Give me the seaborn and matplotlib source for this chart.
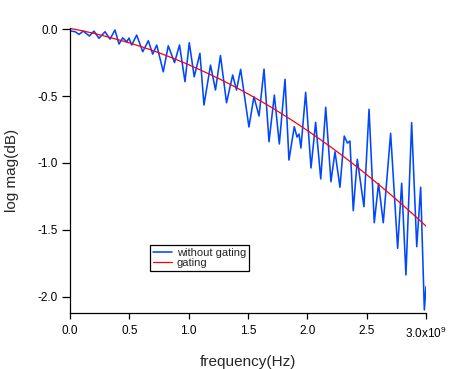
import numpy as np
import pandas as pd
import matplotlib
matplotlib.use("Agg")
import matplotlib.pyplot as plt
import seaborn as sns

# frequency in units of 1e9 Hz
freq_nogate = [0.006, 0.042, 0.076, 0.112, 0.163, 0.202, 0.244, 0.295, 0.337, 0.379,
               0.413, 0.444, 0.478, 0.497, 0.520, 0.562, 0.613, 0.660, 0.697, 0.731,
               0.786, 0.828, 0.881, 0.923, 0.969, 1.005, 1.047, 1.095, 1.129, 1.184,
               1.226, 1.268, 1.319, 1.371, 1.403, 1.438, 1.508, 1.550, 1.593, 1.635,
               1.677, 1.722, 1.764, 1.812, 1.845, 1.890, 1.913, 1.930, 1.946, 1.986,
               2.031, 2.070, 2.113, 2.155, 2.199, 2.233, 2.275, 2.311, 2.338, 2.359,
               2.387, 2.421, 2.477, 2.520, 2.564, 2.600, 2.640, 2.702, 2.761, 2.795,
               2.831, 2.879, 2.922, 2.955, 2.986, 3.000]
mag_nogate = [-0.015, -0.019, -0.040, -0.015, -0.052, -0.015, -0.069, -0.020, -0.075, -0.007,
              -0.112, -0.065, -0.095, -0.067, -0.119, -0.045, -0.169, -0.087, -0.187, -0.119,
              -0.319, -0.125, -0.250, -0.119, -0.393, -0.102, -0.356, -0.181, -0.567, -0.269,
              -0.455, -0.198, -0.550, -0.343, -0.455, -0.301, -0.731, -0.505, -0.649, -0.299,
              -0.841, -0.493, -0.858, -0.375, -0.978, -0.729, -0.806, -0.784, -0.888, -0.472,
              -1.037, -0.696, -1.119, -0.584, -1.140, -0.916, -1.181, -0.799, -0.851, -0.836,
              -1.356, -0.972, -1.326, -0.599, -1.446, -1.153, -1.446, -0.778, -1.637, -1.151,
              -1.836, -0.699, -1.625, -1.181, -2.097, -1.923]

freq_gate = [0.0, 0.1, 0.2, 0.3, 0.4, 0.5, 0.6, 0.7, 0.8, 0.9, 1.0,
             1.1, 1.2, 1.3, 1.4, 1.5, 1.6, 1.7, 1.8, 1.9, 2.0,
             2.1, 2.2, 2.3, 2.4, 2.5, 2.6, 2.7, 2.8, 2.9, 3.0]
mag_gate = [0.005, -0.012, -0.032, -0.054, -0.078, -0.103, -0.131, -0.161, -0.194, -0.229, -0.266,
            -0.306, -0.347, -0.390, -0.436, -0.484, -0.534, -0.586, -0.641, -0.698, -0.757,
            -0.819, -0.882, -0.948, -1.016, -1.087, -1.160, -1.234, -1.311, -1.390, -1.471]

xtick_vals = [0.0, 0.5, 1.0, 1.5, 2.0, 2.5, 3.0]
xtick_labels = ["0.0", "0.5", "1.0", "1.5", "2.0", "2.5", "3.0x10$^{9}$"]
ytick_vals = [0.0, -0.5, -1.0, -1.5, -2.0]
ytick_labels = ["0.0", "-0.5", "-1.0", "-1.5", "-2.0"]

sns.set_style("ticks")
plt.rcParams['font.family'] = ['Liberation Sans', 'DejaVu Sans']
plt.rcParams['mathtext.fontset'] = 'custom'
plt.rcParams['mathtext.rm'] = 'Liberation Sans'

fig = plt.figure(figsize=(4.54, 3.69), dpi=100)
ax = fig.add_axes([70/454, 1-313/369, 356/454, 285/369])

df1 = pd.DataFrame({"f": freq_nogate, "m": mag_nogate})
df2 = pd.DataFrame({"f": freq_gate, "m": mag_gate})
sns.lineplot(data=df1, x="f", y="m", ax=ax, color="#0047ff", lw=1.15,
             sort=False, estimator=None, label="without gating")
sns.lineplot(data=df2, x="f", y="m", ax=ax, color="#ff0000", lw=0.9,
             sort=False, estimator=None, label="gating")

ax.set_xlim(0, 3.0)
ax.set_ylim(-2.12, 0.008)
ax.set_xticks(xtick_vals)
ax.set_xticklabels(xtick_labels)
ax.set_yticks(ytick_vals)
ax.set_yticklabels(ytick_labels)
sns.despine(ax=ax)
for s in ["left", "bottom"]:
    ax.spines[s].set_linewidth(0.9)
    ax.spines[s].set_color("black")
ax.tick_params(axis="x", length=4, width=0.9, pad=5, labelsize=8.5, colors="black")
ax.tick_params(axis="y", length=6, width=0.9, pad=3, labelsize=8.5, colors="black")

ax.set_xlabel("frequency(Hz)", fontsize=11, labelpad=10)
ax.set_ylabel("log mag(dB)", fontsize=11, labelpad=13)

leg = ax.legend(loc="upper left", bbox_to_anchor=(150/454, 1-245/369),
                bbox_transform=fig.transFigure, borderaxespad=0,
                fontsize=8, frameon=True, fancybox=False, shadow=False,
                handlelength=1.7, handletextpad=0.45, labelspacing=0.0,
                borderpad=0.25)
leg.get_frame().set_edgecolor("black")
leg.get_frame().set_linewidth(0.9)
leg.get_frame().set_alpha(1)

fig.savefig("out.png", dpi=100)
